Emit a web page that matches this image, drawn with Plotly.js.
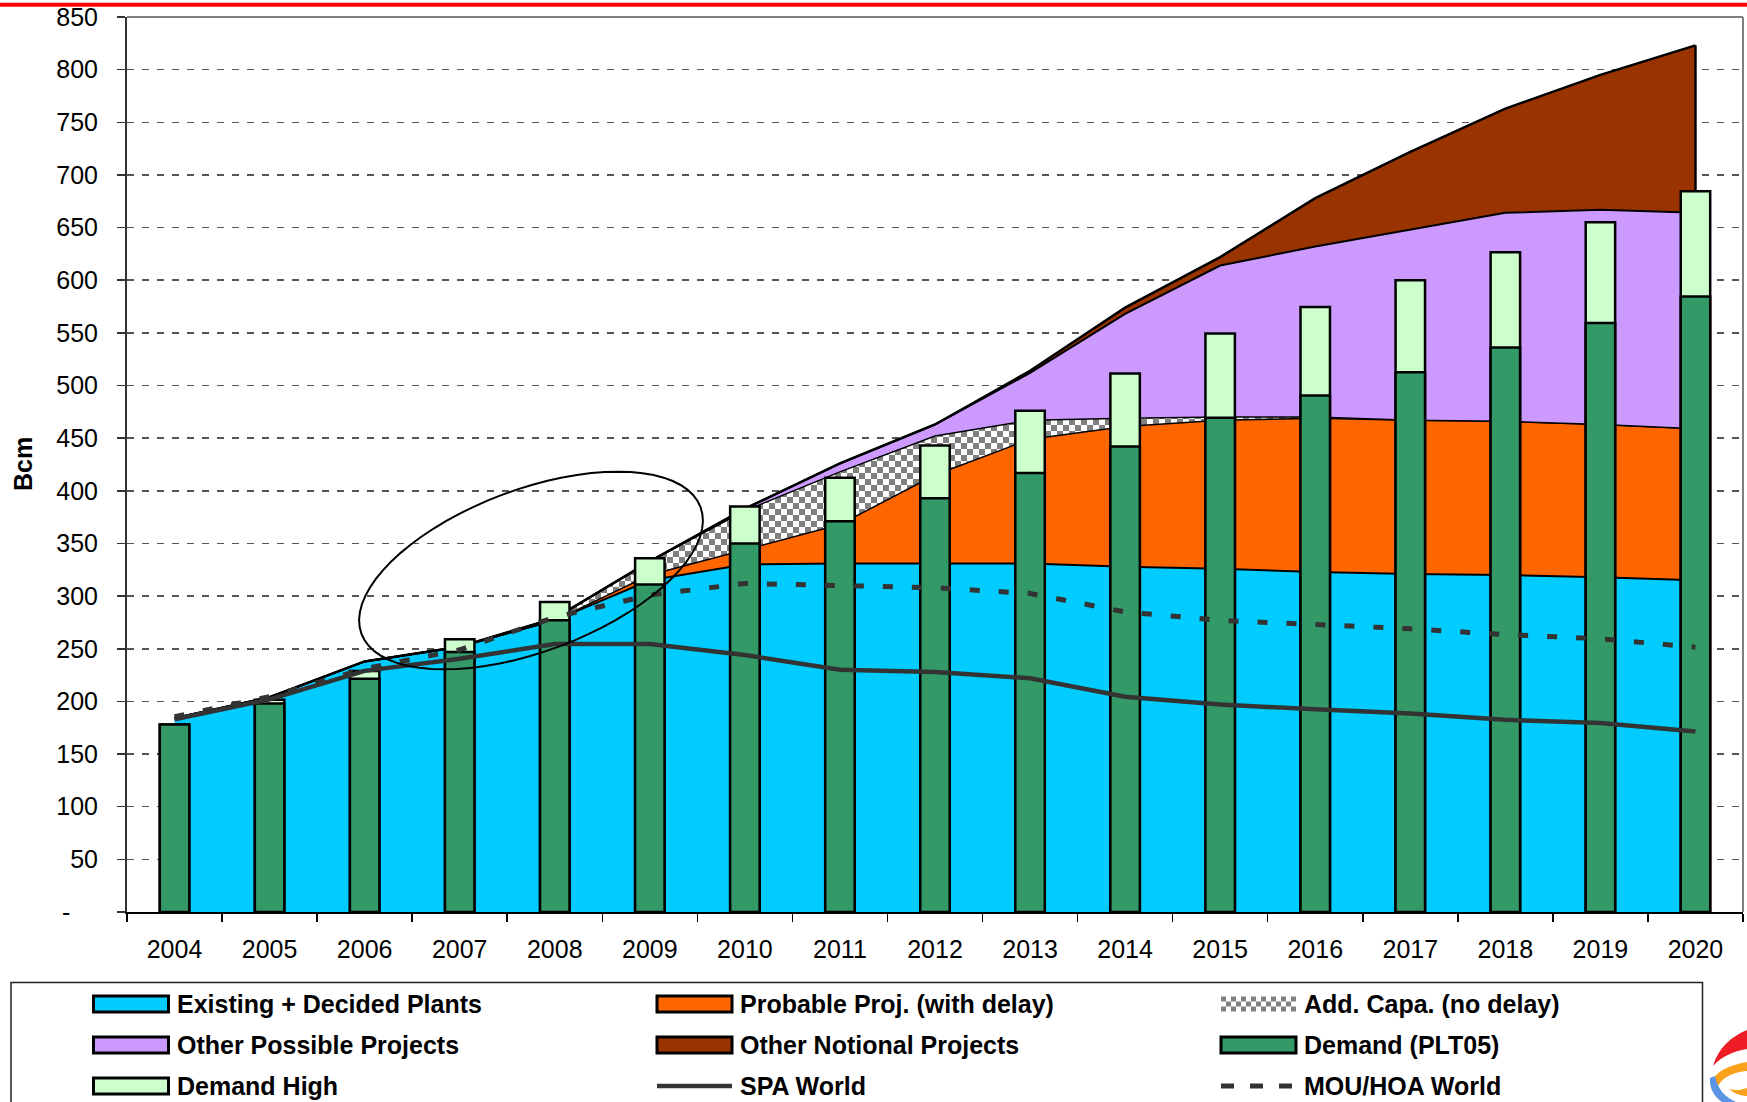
<!DOCTYPE html>
<html>
<head>
<meta charset="utf-8">
<script src="https://cdn.plot.ly/plotly-3.0.1.min.js"></script>
<style>html,body{margin:0;padding:0;background:#fff;}#chart{width:1747px;height:1102px;}</style>
</head>
<body>
<div id="chart"></div>
<script>
// ---------------- DATA ----------------
const years = ['2004','2005','2006','2007','2008','2009','2010','2011','2012','2013','2014','2015','2016','2017','2018','2019','2020'];
// stacked supply layers (each layer's own value, Bcm)
const existingDecided = [184,204,238,252,277,315,330,331,331,331,328,326,323,321,320,318,315];
const probableProj    = [0,0,0,0,0,5,14,37,84,118,133,141,146,146,146,145,144];
const addCapa         = [0,0,0,0,2,13,37,50,37,18,8,3,1,0,0,0,0];
const otherPossible   = [0,0,0,0,0,0,2,8,11,45,99,144,162,181,198,204,205];
const otherNotional   = [0,0,0,0,0,0,0,0,0,2,6,8,46,74,99,128,159];
// demand bars
const demandPLT05 = [178,198,221.5,247,277,311,350,371,393,417,442,469.5,490.5,512.5,536,559.5,584.5];
const demandHigh  = [178,201.5,229,259,294.5,336,385,412.5,443,476,511.5,549.5,574.5,600,626.5,655,684.5];
// contract lines
const spaWorld    = [183,202,229,240.5,254.5,254.5,244,230,228,222,204.5,197,192.5,188.5,182.5,179.5,171.5];
const mouHoaWorld = [185.5,204.5,231,249,280,301,312,309.5,308,302.5,285,277,273,269,263.5,259.5,251.5];
// axis ticks (Excel accounting format shows zero as a padded dash)
const yTickVals = [0,50,100,150,200,250,300,350,400,450,500,550,600,650,700,750,800,850];
const yTickText = ['-\u00A0\u00A0\u00A0\u00A0','50','100','150','200','250','300','350','400','450','500','550','600','650','700','750','800','850'];
const names = ['Existing + Decided Plants','Probable Proj. (with delay)','Add. Capa. (no delay)',
               'Other Possible Projects','Other Notional Projects','Demand (PLT05)',
               'Demand High','SPA World','MOU/HOA World'];
const yTitle = 'Bcm';

// ---------------- STYLE ----------------
const C = {cyan:'#00CCFF', orange:'#FF6600', purple:'#CC99FF', brown:'#993300',
           green:'#339966', lightGreen:'#CCFFCC', line:'#333333', checker:'#808080'};
const FONT = 'Liberation Sans, Arial, sans-serif';
const W = 1747, H = 1102, ML = 127, MR = 4, MT = 17, MB = 190;
const PW = W - ML - MR, PH = H - MT - MB;
const px = x => (x - ML) / PW;
const py = y => (MT + PH - y) / PH;

// ---------------- TRACES ----------------
const traces = [
  {x:years, y:existingDecided, name:names[0], type:'scatter', mode:'lines', stackgroup:'s',
   line:{color:'#000', width:2}, fillcolor:C.cyan, xaxis:'x', yaxis:'y'},
  {x:years, y:probableProj, name:names[1], type:'scatter', mode:'lines', stackgroup:'s',
   line:{color:'#000', width:1.5}, fillcolor:C.orange, xaxis:'x', yaxis:'y'},
  {x:years, y:addCapa, name:names[2], type:'scatter', mode:'lines', stackgroup:'s',
   line:{color:'#000', width:1.5}, fillcolor:'#ffffff',
   fillpattern:{shape:'.', fgcolor:C.checker, bgcolor:'#ffffff', size:12, solidity:0.5},
   xaxis:'x', yaxis:'y'},
  {x:years, y:otherPossible, name:names[3], type:'scatter', mode:'lines', stackgroup:'s',
   line:{color:'#000', width:2}, fillcolor:C.purple, xaxis:'x', yaxis:'y'},
  {x:years, y:otherNotional, name:names[4], type:'scatter', mode:'lines', stackgroup:'s',
   line:{color:'#000', width:2.5}, fillcolor:C.brown, xaxis:'x', yaxis:'y'}
];
// right-hand closing edge of the top area (Excel draws the polygon outline)
const last = years.length - 1;
const cumBelowTop = existingDecided[last] + probableProj[last] + addCapa[last] + otherPossible[last];
traces.push({x:[years[last], years[last]], y:[cumBelowTop, cumBelowTop + otherNotional[last]],
  type:'scatter', mode:'lines', line:{color:'#000', width:2.5}, showlegend:false, hoverinfo:'skip',
  xaxis:'x', yaxis:'y'});
// bars + lines on an overlaid subplot so they sit above the areas
traces.push({x:years, y:demandHigh, name:names[6], type:'bar', width:0.31,
  marker:{color:C.lightGreen, line:{color:'#000', width:2.5}}, xaxis:'x2', yaxis:'y2'});
traces.push({x:years, y:demandPLT05, name:names[5], type:'bar', width:0.31,
  marker:{color:C.green, line:{color:'#000', width:2.5}}, xaxis:'x2', yaxis:'y2'});
traces.push({x:years, y:spaWorld, name:names[7], type:'scatter', mode:'lines',
  line:{color:C.line, width:4.5}, xaxis:'x2', yaxis:'y2'});
traces.push({x:years, y:mouHoaWorld, name:names[8], type:'scatter', mode:'lines',
  line:{color:C.line, width:5, dash:'10px,19px'}, xaxis:'x2', yaxis:'y2'});

// ---------------- SHAPES / ANNOTATIONS ----------------
const shapes = [];
const annotations = [];
// red rule at very top of the slide
shapes.push({type:'line', xref:'paper', yref:'paper', x0:px(0), x1:px(W), y0:py(4.7), y1:py(4.7),
  line:{color:'#FF0000', width:4}, layer:'above'});
// grey top / right frame of the plot area
shapes.push({type:'line', xref:'paper', yref:'paper', x0:0, x1:1, y0:1, y1:1, line:{color:'#808080', width:2}, layer:'above'});
shapes.push({type:'line', xref:'paper', yref:'paper', x0:1, x1:1, y0:0, y1:1, line:{color:'#808080', width:2}, layer:'above'});
// hand-drawn ellipse highlight
(function(){
  const cx = 531, cy = 570.5, a = 181, b = 81, th = -20.5 * Math.PI / 180;
  let d = '';
  for (let i = 0; i <= 72; i++) {
    const t = i / 72 * 2 * Math.PI;
    const X = cx + a*Math.cos(t)*Math.cos(th) - b*Math.sin(t)*Math.sin(th);
    const Y = cy + a*Math.cos(t)*Math.sin(th) + b*Math.sin(t)*Math.cos(th);
    d += (i === 0 ? 'M' : 'L') + px(X).toFixed(5) + ',' + py(Y).toFixed(5);
  }
  shapes.push({type:'path', xref:'paper', yref:'paper', path:d + 'Z', line:{color:'#000', width:2}, layer:'above'});
})();

// custom legend box (3 x 3 grid like the Excel legend)
const LG = {left:11, top:982.5, right:1702.5, bottom:1115};
shapes.push({type:'rect', xref:'paper', yref:'paper', x0:px(LG.left), x1:px(LG.right), y0:py(LG.bottom), y1:py(LG.top),
  line:{color:'#222', width:1.5}, fillcolor:'rgba(0,0,0,0)', layer:'above'});
const colX = [93.5, 657, 1221], rowY = [1004, 1045, 1086], swW = 75, swH = 16;
const legendItems = [
  {name:names[0], kind:'fill', color:C.cyan},
  {name:names[1], kind:'fill', color:C.orange},
  {name:names[2], kind:'checker'},
  {name:names[3], kind:'fill', color:C.purple},
  {name:names[4], kind:'fill', color:C.brown},
  {name:names[5], kind:'fill', color:C.green},
  {name:names[6], kind:'fill', color:C.lightGreen},
  {name:names[7], kind:'solid'},
  {name:names[8], kind:'dash'}
];
legendItems.forEach((it, i) => {
  const x0 = colX[i % 3], yc = rowY[Math.floor(i / 3)];
  if (it.kind === 'fill') {
    shapes.push({type:'rect', xref:'paper', yref:'paper', x0:px(x0), x1:px(x0+swW), y0:py(yc+swH/2), y1:py(yc-swH/2),
      fillcolor:it.color, line:{color:'#000', width:3}, layer:'above'});
  } else if (it.kind === 'checker') {
    const s = 5;
    for (let cx = 0; cx < swW; cx += s) for (let ry = 0; ry < 3; ry++) {
      if (((cx / s) + ry) % 2 === 0) {
        shapes.push({type:'rect', xref:'paper', yref:'paper', x0:px(x0+cx), x1:px(Math.min(x0+cx+s, x0+swW)),
          y0:py(yc-7.5+ry*s+s), y1:py(yc-7.5+ry*s), fillcolor:C.checker, line:{width:0}, layer:'above'});
      }
    }
  } else if (it.kind === 'solid') {
    shapes.push({type:'line', xref:'paper', yref:'paper', x0:px(x0), x1:px(x0+swW), y0:py(yc), y1:py(yc),
      line:{color:C.line, width:4.5}, layer:'above'});
  } else {
    shapes.push({type:'line', xref:'paper', yref:'paper', x0:px(x0), x1:px(x0+swW), y0:py(yc), y1:py(yc),
      line:{color:C.line, width:5, dash:'13px,16px'}, layer:'above'});
  }
  annotations.push({xref:'paper', yref:'paper', x:px(x0+swW+6), y:py(yc), xanchor:'left', yanchor:'middle',
    text:'<b>' + it.name + '</b>', showarrow:false, font:{family:FONT, size:25, color:'#000'}});
});

// y axis title
annotations.push({xref:'paper', yref:'paper', x:px(22.5), y:0.5, xanchor:'center', yanchor:'middle',
  text:'<b>' + yTitle + '</b>', textangle:-90, showarrow:false, font:{family:FONT, size:25, color:'#000'}});

// corner logo fragment (bottom-right)
const logo = [
  {color:'#EE1C25', d:[['M',1713,1066],['C',1718,1048,1732,1036,1747,1030],['L',1747,1049],['C',1733,1051,1721,1057,1713,1066]]},
  {color:'#F9A11B', d:[['M',1713,1086],['C',1710,1075,1725,1066,1747,1062],['L',1747,1071],['C',1735,1072,1725,1076,1720,1083],['C',1718,1087,1715,1089,1713,1086]]},
  {color:'#F9A11B', d:[['M',1729,1089],['C',1735,1094,1741,1096,1747,1096],['L',1747,1088],['C',1741,1090,1735,1091,1729,1089]]},
  {color:'#5B93E5', d:[['M',1710,1078],['C',1709,1090,1716,1098,1722,1102],['L',1736,1102],['C',1725,1097,1718,1090,1715,1076]]}
];
logo.forEach(l => {
  let s = '';
  l.d.forEach(seg => {
    s += seg[0];
    const nums = [];
    for (let k = 1; k < seg.length; k += 2) nums.push(px(seg[k]).toFixed(5) + ',' + py(seg[k+1]).toFixed(5));
    s += nums.join(' ');
  });
  shapes.push({type:'path', xref:'paper', yref:'paper', path:s + 'Z', fillcolor:l.color, line:{width:0}, layer:'above'});
});

// ---------------- LAYOUT ----------------
const tickFont = {family:FONT, size:25, color:'#000'};
const layout = {
  width:W, height:H, margin:{l:ML, r:MR, t:MT, b:MB, pad:0},
  paper_bgcolor:'#fff', plot_bgcolor:'#fff', showlegend:false, barmode:'overlay',
  font:{family:FONT, color:'#000'},
  xaxis:{type:'category', categoryorder:'array', categoryarray:years, range:[-0.5, 16.5],
    tickson:'boundaries', ticks:'outside', ticklen:8, tickwidth:1.5, tickcolor:'#000',
    showline:true, linecolor:'#000', linewidth:2, showgrid:false, zeroline:false,
    tickfont:tickFont, ticklabelstandoff:14, fixedrange:true},
  yaxis:{range:[0, 850], tickmode:'array', tickvals:yTickVals, ticktext:yTickText,
    ticks:'outside', ticklen:8, tickwidth:1.5, tickcolor:'#333',
    showline:true, linecolor:'#333', linewidth:2, zeroline:false,
    showgrid:true, gridcolor:'#555', gridwidth:1.5, griddash:'7px,8px',
    tickfont:tickFont, ticklabelstandoff:14, fixedrange:true},
  xaxis2:{type:'category', categoryorder:'array', categoryarray:years, range:[-0.5, 16.5],
    overlaying:'x', visible:false, fixedrange:true},
  yaxis2:{range:[0, 850], overlaying:'y', visible:false, fixedrange:true},
  shapes:shapes, annotations:annotations
};

Plotly.newPlot('chart', traces, layout, {staticPlot:true, displayModeBar:false}).then(gd => {
  // turn Plotly's pattern tile into the Excel checkerboard tile
  const NS = 'http://www.w3.org/2000/svg';
  gd.querySelectorAll('pattern').forEach(p => {
    while (p.firstChild) p.removeChild(p.firstChild);
    p.setAttribute('width', 12); p.setAttribute('height', 12);
    p.setAttribute('patternUnits', 'userSpaceOnUse');
    p.removeAttribute('viewBox');
    [[0,0,12,12,'#ffffff'],[0,0,6,6,C.checker],[6,6,6,6,C.checker]].forEach(r => {
      const e = document.createElementNS(NS, 'rect');
      e.setAttribute('x', r[0]); e.setAttribute('y', r[1]);
      e.setAttribute('width', r[2]); e.setAttribute('height', r[3]);
      e.setAttribute('fill', r[4]);
      p.appendChild(e);
    });
  });
});
</script>
</body>
</html>
